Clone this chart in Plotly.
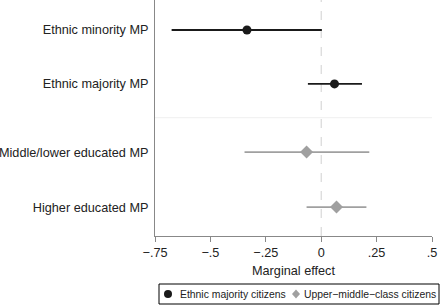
import plotly.graph_objects as go

# Data
row_labels = ["Ethnic minority MP", "Ethnic majority MP", "Middle/lower educated MP", "Higher educated MP"]
series_names = ["Ethnic majority citizens", "Upper\u2212middle\u2212class citizens"]
estimates = [-0.335, 0.060, -0.066, 0.069]
ci_low = [-0.675, -0.060, -0.346, -0.066]
ci_high = [0.003, 0.184, 0.217, 0.204]
series_of_row = [0, 0, 1, 1]
tick_vals = [-0.75, -0.5, -0.25, 0, 0.25, 0.5]
tick_text = ["\u2212.75", "\u2212.5", "\u2212.25", "0", ".25", ".5"]

# layout positions of rows (vertical)
row_pos = [1.0, 1.99, 3.24, 4.25]
sep_pos = 2.61

colors = ["#1a1a1a", "#a0a0a0"]
symbols = ["circle", "diamond"]

W, H = 440, 306
ML, MR, MT, MB = 155, 8, 0, 70
PW, PH = W - ML - MR, H - MT - MB

def px_x(p):
    return (p - ML) / PW

def px_y(p):
    return (H - MB - p) / PH

FONT = "Liberation Sans, Arial, Helvetica, sans-serif"

fig = go.Figure()

# zero line
fig.add_shape(type="line", x0=0, x1=0, y0=0, y1=1, xref="x", yref="paper",
              line=dict(color="#d0d0d0", width=1, dash="dash"), layer="below")
# separator
fig.add_shape(type="line", x0=-0.75, x1=0.5, y0=sep_pos, y1=sep_pos, xref="x", yref="y",
              line=dict(color="#efefef", width=1), layer="below")

for s in range(2):
    idx = [i for i in range(len(row_labels)) if series_of_row[i] == s]
    xs = [estimates[i] for i in idx]
    ys = [row_pos[i] for i in idx]
    plus = [ci_high[i] - estimates[i] for i in idx]
    minus = [estimates[i] - ci_low[i] for i in idx]
    fig.add_trace(go.Scatter(
        x=xs, y=ys, mode="markers", name=series_names[s], showlegend=False,
        marker=dict(color=colors[s], symbol=symbols[s], size=9 if s == 0 else 10, line=dict(width=0)),
        error_x=dict(type="data", array=plus, arrayminus=minus, symmetric=False,
                     color=colors[s], thickness=1.8, width=0),
    ))

# manual legend box
fig.add_shape(type="rect", xref="paper", yref="paper",
              x0=px_x(159), x1=px_x(439), y0=px_y(304), y1=px_y(284),
              line=dict(color="black", width=1), fillcolor="white")
ly = px_y(294)
fig.add_shape(type="circle", xref="paper", yref="paper", xsizemode="pixel", ysizemode="pixel",
              xanchor=px_x(168), yanchor=ly, x0=-4, x1=4, y0=-4, y1=4,
              fillcolor=colors[0], line=dict(width=0))
fig.add_shape(type="path", xref="paper", yref="paper", xsizemode="pixel", ysizemode="pixel",
              xanchor=px_x(296), yanchor=ly, path="M 0 -4.5 L 4 0 L 0 4.5 L -4 0 Z",
              fillcolor=colors[1], line=dict(width=0))
fig.add_annotation(x=px_x(178), y=ly, xref="paper", yref="paper", text=series_names[0],
                   showarrow=False, xanchor="left", yanchor="middle",
                   font=dict(size=10.4, color="#222", family=FONT))
fig.add_annotation(x=px_x(302), y=ly, xref="paper", yref="paper", text=series_names[1],
                   showarrow=False, xanchor="left", yanchor="middle",
                   font=dict(size=10.4, color="#222", family=FONT))

fig.update_xaxes(range=[-0.75, 0.5], tickvals=tick_vals, ticktext=tick_text,
                 showgrid=False, zeroline=False, showline=True, linecolor="#888888", linewidth=1,
                 ticks="outside", ticklen=5, tickcolor="#888888", automargin=False,
                 ticklabeloverflow="allow",
                 tickfont=dict(size=12.7, color="#222"),
                 title=dict(text="Marginal effect", font=dict(size=12.7, color="#222"), standoff=6))
fig.update_yaxes(range=[4.78, 0.45], tickvals=row_pos, ticktext=row_labels,
                 showgrid=False, zeroline=False, showline=True, linecolor="#888888", linewidth=1,
                 ticks="outside", ticklen=3, tickcolor="rgba(0,0,0,0)", automargin=False,
                 ticklabeloverflow="allow",
                 tickfont=dict(size=12.7, color="#222"))

fig.update_layout(
    width=W, height=H,
    margin=dict(l=ML, r=MR, t=MT, b=MB),
    plot_bgcolor="white", paper_bgcolor="white",
    font=dict(family=FONT, size=12.7, color="#222"),
    showlegend=False,
)

fig.write_html("out.html", config={"displayModeBar": False},
               post_script="document.body.style.margin='0';document.body.style.overflow='hidden';")
